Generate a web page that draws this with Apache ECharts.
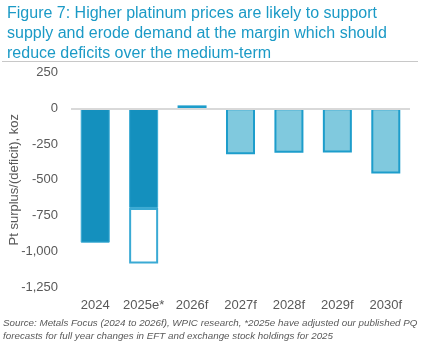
<!DOCTYPE html>
<html><head><meta charset="utf-8">
<script src="https://cdn.jsdelivr.net/npm/echarts@6/dist/echarts.min.js"></script>
<style>html,body{margin:0;padding:0;background:#fff}#c{width:442px;height:361px}</style>
</head><body><div id="c"></div>
<script>
const categories = ['2024', '2025e*', '2026f', '2027f', '2028f', '2029f', '2030f'];
const reported = [-940, -697, null, null, null, null, null];
const adjustment = [null, -388, null, null, null, null, null];
const forecast = [null, null, 20, -322, -312, -310, -457];
const yTicks = { min: -1250, max: 250, interval: 250 };

const chart = echarts.init(document.getElementById('c'));
const fmt = v => v.toLocaleString('en-US');
chart.setOption({
  animation: false,
  textStyle: { fontFamily: 'Liberation Sans, Arial, sans-serif' },
  title: {
    text: 'Figure 7: Higher platinum prices are likely to support\nsupply and erode demand at the margin which should\nreduce deficits over the medium-term',
    left: 2, top: -1,
    textStyle: { color: '#1b9ac6', fontSize: 16, fontWeight: 'normal', lineHeight: 20, fontFamily: 'Liberation Sans, Arial, sans-serif' }
  },
  graphic: [
    { type: 'line', shape: { x1: 2, y1: 61.5, x2: 418, y2: 61.5 }, style: { stroke: '#c8c8c8', lineWidth: 1 } },
    { type: 'text', left: 3, top: 317, style: {
      text: 'Source: Metals Focus (2024 to 2026f), WPIC research, *2025e have adjusted our published PQ\nforecasts for full year changes in EFT and exchange stock holdings for 2025',
      fill: '#595959', font: 'italic 9.8px Liberation Sans, Arial, sans-serif', lineHeight: 13 } }
  ],
  grid: { left: 71, right: 32, top: 72.5, bottom: 74, containLabel: false, outerBoundsMode: 'none' },
  xAxis: {
    type: 'category', data: categories,
    axisLine: { show: false }, axisTick: { show: false },
    axisLabel: { color: '#595959', fontSize: 13, margin: 12, interval: 0 }
  },
  yAxis: {
    type: 'value', min: yTicks.min, max: yTicks.max, interval: yTicks.interval,
    name: 'Pt surplus/(deficit), koz', nameLocation: 'middle', nameGap: 50, nameMoveOverlap: false,
    nameTextStyle: { color: '#595959', fontSize: 13 },
    axisLine: { show: false }, axisTick: { show: false }, splitLine: { show: false },
    axisLabel: { color: '#595959', fontSize: 13, margin: 13, formatter: fmt }
  },
  series: [
    { type: 'bar', stack: 's', data: reported, barWidth: 29,
      itemStyle: { color: '#1490be', borderColor: '#3aaad4', borderWidth: 1 },
      markLine: { silent: true, symbol: 'none', label: { show: false },
        lineStyle: { color: '#d9d9d9', width: 2, type: 'solid' }, data: [{ yAxis: 0 }] } },
    { type: 'bar', stack: 's', data: adjustment, barWidth: 29,
      itemStyle: { color: '#ffffff', borderColor: '#3aaad4', borderWidth: 2 } },
    { type: 'bar', stack: 's', data: forecast, barWidth: 29,
      itemStyle: { color: '#80c9de', borderColor: '#1d9dcb', borderWidth: 2 } }
  ]
});
</script></body></html>
